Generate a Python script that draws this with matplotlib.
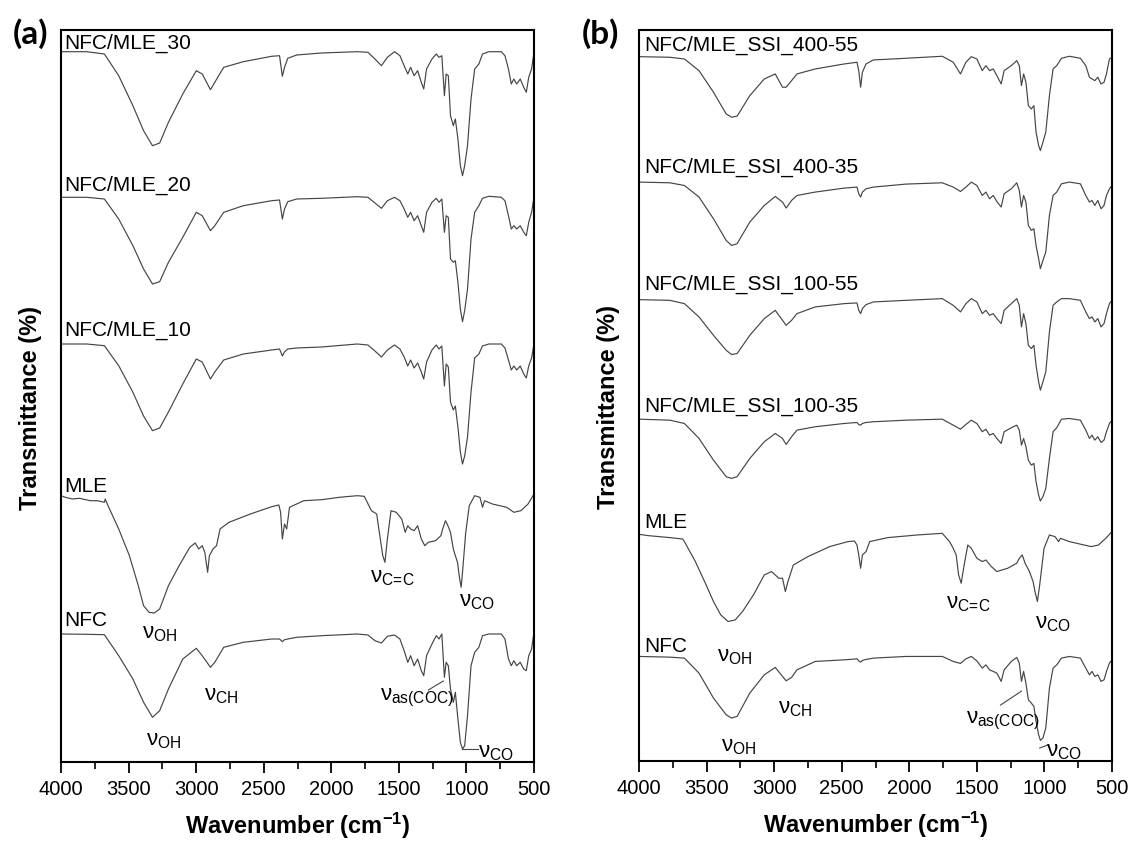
import matplotlib
matplotlib.use('Agg')
import matplotlib.pyplot as plt
from matplotlib.ticker import MultipleLocator

plt.rcParams['font.family'] = ['Liberation Sans', 'DejaVu Sans']
plt.rcParams['mathtext.fontset'] = 'custom'
plt.rcParams['mathtext.rm'] = 'Liberation Sans'
plt.rcParams['mathtext.it'] = 'Liberation Sans'
plt.rcParams['mathtext.sf'] = 'Liberation Sans'
plt.rcParams['mathtext.bf'] = 'Liberation Sans:bold'

# ---------------- Panel (a) data (transmittance in stacked a.u.) ----------------
wn_a = [4000, 3810, 3679, 3573, 3468, 3389, 3323, 3270, 3205, 3099,
        2999, 2955, 2894, 2862, 2796, 2651, 2441, 2383, 2362, 2346,
        2322, 2256, 2072, 1808, 1729, 1677, 1629, 1585, 1532, 1492,
        1461, 1434, 1413, 1387, 1361, 1334, 1316, 1295, 1255, 1223,
        1203, 1182, 1163, 1150, 1134, 1118, 1097, 1082, 1063, 1045,
        1029, 1013, 992, 966, 939, 908, 881, 834, 742, 715,
        689, 668, 649, 628, 602, 576, 557, 539, 518, 500]

t_nfc_mle_30 = [710.3, 710.3, 708, 686.3, 656.3, 631.3, 616.3, 619, 639.7, 668,
                691.3, 688, 672.3, 679.7, 694.7, 700.3, 705.7, 706.3, 685.7, 694.7,
                703.7, 707, 709, 710.3, 709.7, 703, 696.3, 704.7, 710.3, 706.3,
                696.3, 688, 694.7, 686.3, 691.3, 679.7, 673, 693, 703, 708,
                704.7, 706.3, 666.3, 688, 686.3, 646.3, 636.3, 643, 623, 596.3,
                586.3, 596.3, 616.3, 663, 693, 698, 708, 710.3, 710.3, 706.3,
                693, 678, 683, 678, 683, 674.7, 669.7, 684.7, 693, 709.7]

t_nfc_mle_20 = [564.7, 564.7, 563, 543, 516.3, 493, 478, 480.3, 499.7, 524.7,
                549.7, 546.3, 531.3, 536.3, 549.7, 556.3, 561.3, 562, 543, 553,
                560.3, 563, 563.7, 565.3, 564.7, 559, 553.7, 561.3, 564.7, 561.3,
                553, 544.7, 549.7, 541.3, 546.3, 536.3, 529.7, 549.7, 559.7, 563.7,
                559.7, 563, 529.7, 546.3, 544.7, 503, 499.7, 501.3, 479.7, 453,
                440.3, 451.3, 473, 523, 549.7, 556.3, 563.7, 565.7, 564.7, 561.3,
                546.3, 533, 536.3, 533, 536.3, 529.7, 526.3, 539.7, 549.7, 564.7]

t_nfc_mle_10 = [418, 418, 416.3, 396.3, 369.7, 346, 331.3, 334, 350, 378,
                403, 400, 383, 390, 402, 408, 412, 413, 406, 410,
                413, 414, 415, 418, 417, 411, 405, 412, 417, 413,
                405, 396, 402, 394, 399, 390, 383, 400, 412, 417,
                413, 416, 376, 398, 395, 360, 352, 356, 335, 310,
                298, 306, 325, 370, 404, 408, 416, 418, 418, 414,
                402, 392, 396, 392, 396, 388, 384, 396, 404, 418]

t_nfc_a = [128, 127.7, 127.3, 106.3, 83, 59.7, 44.7, 51.3, 73, 103,
           113.7, 106.3, 94.7, 99.7, 114.7, 119.7, 123, 123, 120.3, 122.3,
           123, 124.7, 126.3, 128, 127, 121.3, 119, 125.7, 127, 123,
           111.3, 99.7, 106.3, 96.3, 103, 91.3, 86.3, 106.3, 118, 126.3,
           123, 128, 84.7, 99.7, 96.3, 73, 59.7, 69.7, 43, 19.7,
           13, 16.3, 46.3, 96.3, 109.7, 114.7, 126.3, 128, 128, 123,
           103, 96.3, 101.3, 96.3, 99.7, 93, 91.3, 106.3, 113, 129.7]

wn_mle_a = [4000, 3968, 3916, 3863, 3784, 3731, 3679, 3673, 3652, 3573,
            3494, 3428, 3389, 3349, 3310, 3270, 3205, 3126, 3047, 3007,
            2981, 2955, 2936, 2915, 2902, 2875, 2849, 2823, 2757, 2599,
            2441, 2388, 2375, 2362, 2346, 2330, 2309, 2204, 2072, 1940,
            1808, 1756, 1703, 1664, 1650, 1619, 1603, 1585, 1558, 1519,
            1479, 1453, 1434, 1413, 1387, 1361, 1334, 1308, 1282, 1229,
            1189, 1176, 1155, 1137, 1118, 1097, 1082, 1066, 1050, 1039,
            1029, 1005, 979, 939, 900, 881, 866, 808, 702, 649,
            597, 544, 500]

t_mle_a = [266.3, 264.7, 263, 263.7, 261.3, 261.3, 259.7, 263, 256.3, 233,
           206.3, 176.3, 156.3, 149.7, 149, 153, 176.3, 196.3, 214.7, 219,
           213, 216.3, 209.7, 189.7, 206.3, 213, 216.3, 233, 239.7, 248,
           255.3, 257, 249.7, 223, 238, 233, 254.7, 261.3, 262.3, 264.7,
           266.3, 265.7, 251.3, 248, 234.7, 206.3, 199.7, 223, 251.3, 249.7,
           243, 229.7, 236.3, 233, 231.3, 236.3, 223, 216.3, 219.7, 221.3,
           226.3, 233, 241.3, 236.3, 229.7, 213, 206.3, 199.7, 183, 174.7,
           189.7, 229.7, 256.3, 266.3, 264.7, 254.7, 261.3, 258, 254.7, 249.7,
           251.3, 258, 268]

labels_a = ['NFC/MLE_30', 'NFC/MLE_20', 'NFC/MLE_10', 'MLE', 'NFC']
label_t_a = [720, 578, 433, 276, 143]

# ---------------- Panel (b) data ----------------
wn_b = [4000, 3772, 3664, 3556, 3449, 3355, 3315, 3274, 3180, 3073,
        2992, 2938, 2911, 2871, 2831, 2696, 2481, 2387, 2374, 2360,
        2347, 2320, 2266, 2024, 1756, 1675, 1621, 1581, 1541, 1500,
        1460, 1433, 1406, 1379, 1352, 1320, 1298, 1245, 1205, 1186,
        1170, 1154, 1137, 1119, 1097, 1078, 1062, 1043, 1030, 1011,
        990, 963, 936, 909, 874, 815, 734, 694, 667, 648,
        627, 605, 581, 559, 541, 519, 500]

t_ssi_400_55 = [705.3, 704.7, 703, 691.3, 669.7, 648, 644.7, 645.7, 666.3, 683,
                688, 674.7, 674.7, 681.3, 688, 693, 698, 699.7, 691.3, 674.7,
                689.7, 698, 702, 703.7, 705.7, 699.7, 688, 699.7, 705.3, 703,
                691.3, 696.3, 691.3, 693, 686.3, 678, 691.3, 696.3, 701.3, 696.3,
                676.3, 688, 679.7, 656.3, 653, 656.3, 629.7, 616.3, 611.3, 619.7,
                629.7, 666.3, 693, 696.3, 703.7, 705.7, 703.7, 696.3, 684.7, 683,
                681.3, 684.7, 678, 679.7, 688, 703, 704.7]

t_ssi_400_35 = [579.7, 579, 576.3, 564.7, 543, 521.3, 516.3, 518, 539.7, 556.3,
                565.3, 559.7, 553.7, 561.3, 566.3, 569.7, 573.7, 574.7, 568, 564.7,
                569.7, 573, 574.7, 577.7, 579, 574.7, 570.3, 574.7, 579.7, 576.3,
                566.3, 569.7, 563, 566.3, 560.3, 554.7, 568, 573, 579, 571.3,
                554.7, 566.3, 559.7, 536.3, 531.3, 533, 516.3, 503, 493, 501.3,
                509.7, 546.3, 566.3, 569.7, 578, 579.7, 578, 566.3, 559.7, 561.3,
                556.3, 561.3, 553, 556.3, 566.3, 573, 576.3]

t_ssi_100_55 = [462, 461.3, 458, 444.7, 426.3, 411.3, 407, 408, 426.3, 443,
                451.3, 441.3, 436.3, 441.3, 448, 454.7, 458, 458.7, 451.3, 448,
                453, 457, 459.7, 461.3, 463, 456.3, 449.7, 458, 463, 459.7,
                448, 451.3, 446.3, 448, 443, 438, 451.3, 458, 463, 456.3,
                434.7, 448, 438, 416.3, 413, 416.3, 396.3, 379.7, 371.3, 379.7,
                389.7, 429.7, 456.3, 459.7, 463, 463, 461.3, 449.7, 443, 444.7,
                439.7, 443, 434.7, 438, 448, 458, 461.3]

t_ssi_100_35 = [342.3, 341.3, 338, 323, 301.3, 284.7, 283, 284.7, 303, 319.7,
                328, 323, 317, 324.7, 331.3, 334.7, 338, 339, 337, 336.3,
                338, 339, 339.7, 341.3, 342.3, 336.3, 332.3, 337, 341.3, 338,
                329.7, 332.3, 326.3, 328, 323, 318, 329.7, 333.7, 336.3, 331.3,
                316.3, 323, 314.7, 301.3, 296.3, 298, 279.7, 266.3, 260.3, 264.7,
                273, 303, 329.7, 333.7, 342.3, 343, 341.3, 331.3, 323, 326.3,
                321.3, 324.7, 319, 321.3, 329.7, 338, 341.3]

t_nfc_b = [104.7, 104, 103, 88, 63, 46.3, 43, 44.7, 68, 86.3,
           93.7, 84.7, 80.3, 83.7, 91.3, 99.7, 101.3, 102.3, 100.3, 99,
           100.7, 101.7, 103, 104.7, 104.7, 99.7, 97.7, 102.3, 104.7, 100.3,
           93, 96.3, 91.3, 89.7, 88, 79.7, 91.3, 99.7, 103.7, 98,
           79.7, 89.7, 78, 61.3, 58, 54.7, 39.7, 26.3, 20.7, 23,
           33, 73, 93, 96.3, 103, 104.7, 103, 93, 86.3, 89.7,
           84.7, 86.3, 79.7, 81.3, 89.7, 98, 101.3]

wn_mle_b = [4000, 3933, 3852, 3772, 3677, 3664, 3583, 3503, 3449, 3395,
            3341, 3288, 3234, 3153, 3073, 3019, 2992, 2965, 2938, 2917,
            2898, 2858, 2750, 2589, 2454, 2406, 2387, 2374, 2360, 2347,
            2320, 2293, 2159, 1944, 1756, 1702, 1675, 1653, 1635, 1616,
            1594, 1567, 1541, 1500, 1460, 1433, 1393, 1352, 1272, 1205,
            1186, 1164, 1143, 1111, 1084, 1070, 1052, 1035, 1003, 963,
            922, 895, 882, 815, 707, 653, 600, 546, 500]

t_mle_b = [227, 225.7, 224.7, 223.7, 222.3, 219.7, 199.7, 176.3, 159.7, 146.3,
           139.7, 141.3, 149.7, 166.3, 186.3, 189.7, 186.3, 183, 183, 169.7,
           179.7, 196.3, 204.7, 214.7, 219.7, 220.3, 216.3, 206.3, 193, 206.3,
           209.7, 219.7, 223.7, 226.3, 228, 219.7, 213, 206.3, 186.3, 178,
           196.3, 216.3, 213, 203, 199.7, 201.3, 194.7, 189.7, 193, 198,
           203, 206.3, 198, 189.7, 179.7, 169.7, 159.7, 176.3, 213, 226.3,
           224.7, 219.7, 223, 219.7, 216.3, 214.7, 216.3, 223, 229.7]

labels_b = ['NFC/MLE_SSI_400-55', 'NFC/MLE_SSI_400-35', 'NFC/MLE_SSI_100-55',
            'NFC/MLE_SSI_100-35', 'MLE', 'NFC']
label_t_b = [718, 595, 478, 356, 240, 116]

LINE_COLOR = '#454545'
LW = 0.85

fig = plt.figure(figsize=(11.31, 8.45), dpi=100)
axA = fig.add_axes([61 / 1131, 1 - 763 / 845, 473 / 1131, 732 / 845])
axB = fig.add_axes([639 / 1131, 1 - 762 / 845, 473 / 1131, 731 / 845])


def style(ax):
    ax.set_xlim(4000, 500)
    ax.set_ylim(0, 732)
    ax.xaxis.set_major_locator(MultipleLocator(500))
    ax.xaxis.set_minor_locator(MultipleLocator(250))
    ax.tick_params(axis='x', which='major', direction='out', length=8,
                   width=1.3, labelsize=14.5, pad=4, top=False)
    ax.tick_params(axis='x', which='minor', direction='out', length=5,
                   width=1.2, top=False)
    ax.set_yticks([])
    for s in ax.spines.values():
        s.set_linewidth(1.5)
        s.set_color('black')
    ax.set_xlabel(r'Wavenumber (cm$^{\mathbf{-1}}$)', fontsize=17,
                  fontweight='bold', labelpad=9)
    ax.set_ylabel('Transmittance (%)', fontsize=17, fontweight='bold')
    ax.yaxis.set_label_coords(-0.040, 0.485)


style(axA)
style(axB)

# panel (a) curves
for t in [t_nfc_mle_30, t_nfc_mle_20, t_nfc_mle_10, t_nfc_a]:
    axA.plot(wn_a, t, color=LINE_COLOR, lw=LW)
axA.plot(wn_mle_a, t_mle_a, color=LINE_COLOR, lw=LW)
for lab, ty in zip(labels_a, label_t_a):
    axA.text(3975, ty, lab, fontsize=15, ha='left', va='center')

# panel (b) curves
for t in [t_ssi_400_55, t_ssi_400_35, t_ssi_100_55, t_ssi_100_35, t_nfc_b]:
    axB.plot(wn_b, t, color=LINE_COLOR, lw=LW)
axB.plot(wn_mle_b, t_mle_b, color=LINE_COLOR, lw=LW)
for lab, ty in zip(labels_b, label_t_b):
    axB.text(3960, ty, lab, fontsize=15, ha='left', va='center')

# band annotations
CC = r'$\nu_{\mathrm{C\!=\!C}}$'
ann_a = [(r'$\nu_{\mathrm{OH}}$', 3402, 130), (r'$\nu_{\mathrm{OH}}$', 3368, 22),
         (r'$\nu_{\mathrm{CH}}$', 2941, 68), (CC, 1716, 185),
         (r'$\nu_{\mathrm{CO}}$', 1058, 162), (r'$\nu_{\mathrm{as(COC)}}$', 1637, 65),
         (r'$\nu_{\mathrm{CO}}$', 913, 10)]
ann_b = [(r'$\nu_{\mathrm{OH}}$', 3422, 106), (r'$\nu_{\mathrm{OH}}$', 3395, 16),
         (r'$\nu_{\mathrm{CH}}$', 2970, 54), (CC, 1729, 159),
         (r'$\nu_{\mathrm{CO}}$', 1070, 139), (r'$\nu_{\mathrm{as(COC)}}$', 1581, 41),
         (r'$\nu_{\mathrm{CO}}$', 985, 11)]
for ax, anns in [(axA, ann_a), (axB, ann_b)]:
    for s, x, y in anns:
        ax.text(x, y, s, fontsize=16, ha='left', va='center')

# leader lines
axA.plot([1282, 1171], [72, 81], color=LINE_COLOR, lw=0.8)
axA.plot([1031, 913], [13, 13], color=LINE_COLOR, lw=0.8)
axB.plot([1325, 1170], [56, 70], color=LINE_COLOR, lw=0.8)
axB.plot([1035, 975], [13, 16], color=LINE_COLOR, lw=0.8)

fig.text(30 / 1131, 1 - 34 / 845, '(a)', fontsize=24, fontweight='bold',
         family=['Lato', 'DejaVu Sans'], ha='center', va='center')
fig.text(600 / 1131, 1 - 34 / 845, '(b)', fontsize=24, fontweight='bold',
         family=['Lato', 'DejaVu Sans'], ha='center', va='center')

fig.savefig('out.png', dpi=100, facecolor='white')
